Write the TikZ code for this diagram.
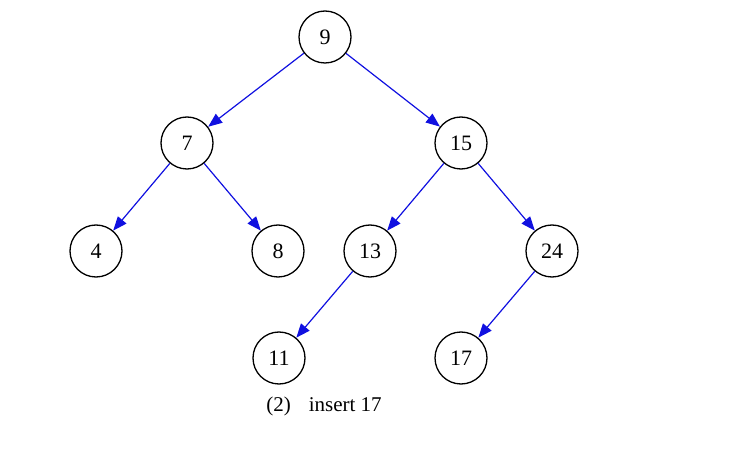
\documentclass[tikz,border=0pt]{standalone}
\usepackage{fontspec}
\setmainfont{Liberation Serif}
\usetikzlibrary{arrows.meta}
\definecolor{edgeblue}{HTML}{1010E0}

\begin{document}
\begin{tikzpicture}[x=1pt, y=-1pt,
    key/.style={circle, draw, line width=1.3pt, minimum size=52pt, inner sep=0pt, font=\fontsize{22}{22}\selectfont},
    link/.style={edgeblue, line width=1.2pt, -{Triangle[length=14pt, width=11pt]}}]
    \useasboundingbox (0,0) rectangle (737,465);
    % keys of the tree
    \node[key] (n9)  at (325,37)  {9};
    \node[key] (n7)  at (187,143) {7};
    \node[key] (n15) at (461,143) {15};
    \node[key] (n4)  at (96,251)  {4};
    \node[key] (n8)  at (278,251) {8};
    \node[key] (n13) at (370,251) {13};
    \node[key] (n24) at (552,251) {24};
    \node[key] (n11) at (279,358) {11};
    \node[key] (n17) at (461,358) {17};
    % child links
    \draw[link] (n9) -- (n7);
    \draw[link] (n9) -- (n15);
    \draw[link] (n7) -- (n4);
    \draw[link] (n7) -- (n8);
    \draw[link] (n15) -- (n13);
    \draw[link] (n15) -- (n24);
    \draw[link] (n13) -- (n11);
    \draw[link] (n24) -- (n17);
    % caption
    \node[font=\fontsize{21}{21}\selectfont] (caption) at (324,406) {(2)\hspace{18pt}insert 17};
\end{tikzpicture}
\end{document}
